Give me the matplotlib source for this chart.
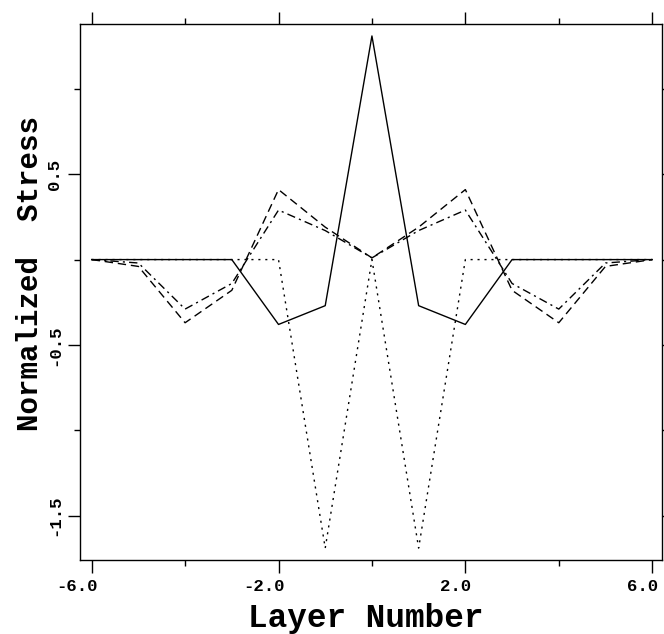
import numpy as np
import matplotlib
matplotlib.use("Agg")
import matplotlib.pyplot as plt
import matplotlib.transforms as mtrans
from matplotlib.ticker import FixedLocator, FormatStrFormatter

# layer positions and normalized stress for each curve
layers = [-6, -5, -4, -3, -2, -1, 0, 1, 2, 3, 4, 5, 6]
stress_solid = [0.0, 0.0, 0.0, 0.0, -0.38, -0.27, 1.31, -0.27, -0.38, 0.0, 0.0, 0.0, 0.0]
stress_dotted = [0.0, 0.0, 0.0, 0.0, 0.0, -1.69, 0.0, -1.69, 0.0, 0.0, 0.0, 0.0, 0.0]
stress_dashed = [0.0, -0.04, -0.37, -0.18, 0.41, 0.19, 0.01, 0.19, 0.41, -0.18, -0.37, -0.04, 0.0]
stress_dashdot = [0.0, -0.02, -0.29, -0.14, 0.29, 0.17, 0.01, 0.17, 0.29, -0.14, -0.29, -0.02, 0.0]

x_major = [-6.0, -2.0, 2.0, 6.0]
x_minor = [-4.0, 0.0, 4.0]
y_major = [0.5, -0.5, -1.5]
y_minor = [1.0, 0.0, -1.0]

mono = ['Liberation Mono', 'DejaVu Sans Mono']

fig = plt.figure(figsize=(6.64, 6.34), dpi=100)
ax = fig.add_axes([80/664, 1 - 559.7/634, (662-80)/664, (559.7-24)/634])

ax.plot(layers, stress_solid, '-', color='black', lw=1.0)
ax.plot(layers, stress_dotted, color='black', lw=1.0, linestyle=(0, (1.5, 3.5)))
ax.plot(layers, stress_dashed, color='black', lw=1.0, linestyle=(0, (6, 3.5)))
ax.plot(layers, stress_dashdot, color='black', lw=1.0, linestyle=(0, (6, 3, 1.5, 3)))

ax.set_xlim(-6.25, 6.21)
ax.set_ylim(-1.758, 1.38)

ax.xaxis.set_major_locator(FixedLocator(x_major))
ax.xaxis.set_minor_locator(FixedLocator(x_minor))
ax.yaxis.set_major_locator(FixedLocator(y_major))
ax.yaxis.set_minor_locator(FixedLocator(y_minor))
ax.xaxis.set_major_formatter(FormatStrFormatter('%.1f'))
ax.yaxis.set_major_formatter(FormatStrFormatter('%.1f'))

ax.tick_params(which='both', direction='out', top=True, right=True, width=1.0, color='black')
ax.tick_params(which='major', length=9)
ax.tick_params(which='minor', length=4)
ax.tick_params(axis='x', which='major', pad=5)
ax.tick_params(axis='y', which='major', pad=4)

# x tick labels sit a bit left of their ticks in the original
shift = mtrans.ScaledTranslation(6/100, 0, fig.dpi_scale_trans)
for lab in ax.get_xticklabels():
    lab.set_family(mono)
    lab.set_fontweight('bold')
    lab.set_fontsize(12.5)
    lab.set_horizontalalignment('right')
    lab.set_transform(lab.get_transform() + shift)
for lab in ax.get_yticklabels():
    lab.set_family(mono)
    lab.set_fontweight('bold')
    lab.set_fontsize(12.5)
    lab.set_rotation(90)
    lab.set_verticalalignment('center')

for sp in ax.spines.values():
    sp.set_linewidth(1.0)

ax.set_xlabel('Layer Number', family=mono, fontweight='bold', fontsize=23.5, va='center')
ax.set_ylabel('Normalized  Stress', family=mono, fontweight='bold', fontsize=21, va='center')
ax.xaxis.set_label_coords(0.491, -0.109)
ax.yaxis.set_label_coords(-0.086, 0.535)

fig.savefig('out.png', dpi=100)
